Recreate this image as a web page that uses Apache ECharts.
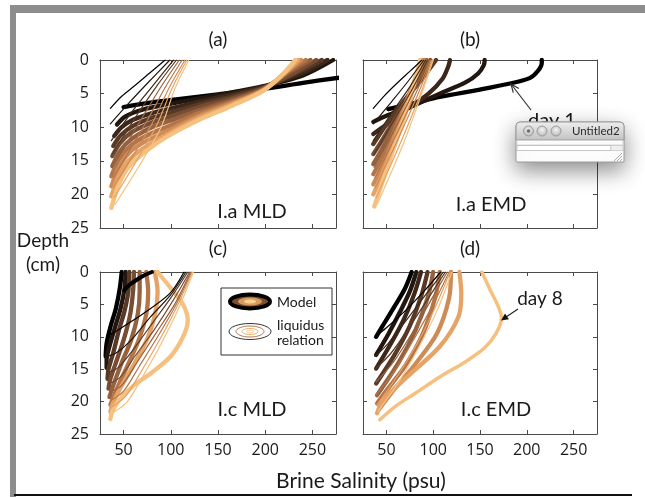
<!DOCTYPE html>
<html><head><meta charset="utf-8">
<script src="https://cdn.jsdelivr.net/npm/echarts@6/dist/echarts.min.js"></script>
<style>html,body{margin:0;padding:0;background:#fff}#c{width:645px;height:497px}</style>
</head><body><div id="c"></div>
<script>
// ---------- data (salinity psu, depth cm) ----------
const xTicks=[50,100,150,200,250];
const yTicks=[0,5,10,15,20,25];
const panelTitles=['(a)','(b)','(c)','(d)'];
const panelNames=['I.a MLD','I.a EMD','I.c MLD','I.c EMD'];
const legendNames=['Model','liquidus','relation'];
const notes=['day 1','day 8'];

const aModel=[
 [[50,7.0],[80,6.3],[110,5.8],[150,5.1],[198,4.3],[240,3.4],[280,2.6]],
 [[43,9.6],[52,8.4],[70,7.4],[100,6.5],[130,5.7],[165,4.8],[198,3.9],[240,2.3],[272,0]],
 [[40,11.3],[48,10],[60,8.9],[80,7.9],[100,7.2],[130,6.2],[165,5.1],[198,4.0],[238,2.0],[266,0]],
 [[39,12.8],[47,11.2],[60,9.8],[80,8.6],[100,7.8],[130,6.6],[165,5.4],[198,4.1],[235,1.8],[260,0]],
 [[38,14.3],[46,12.4],[58,10.8],[80,9.3],[100,8.4],[130,7.0],[165,5.7],[198,4.2],[232,1.8],[254,0]],
 [[38,15.8],[46,13.6],[58,11.8],[80,10],[100,9.0],[130,7.5],[165,6.0],[198,4.3],[228,1.6],[248,0]],
 [[37,17.3],[45,14.8],[57,12.8],[75,11.2],[100,9.7],[130,7.9],[165,6.2],[198,4.4],[225,1.6],[243,0]],
 [[37,18.8],[45,16],[56,13.8],[72,12.2],[100,10.3],[130,8.3],[165,6.4],[198,4.5],[222,1.8],[238,0]],
 [[37,20.3],[45,17.2],[55,15],[70,13.2],[97,11],[130,8.6],[165,6.6],[198,4.5],[220,2],[235,0]],
 [[37,22],[45,18.5],[55,16],[70,14],[95,11.5],[130,8.9],[165,6.8],[198,4.6],[218,2.2],[232,0]]
];
const aLiquidus=[
 [[36,7.2],[48,5.4],[62,3.8],[78,1.9],[94,0]],
 [[36,9.5],[55,6.5],[75,3.5],[99,0]],
 [[37,12],[60,7.5],[80,4],[103,0]],
 [[38,14],[65,8],[86,3.7],[106,0]],
 [[38,16],[70,8.5],[90,3.9],[109,0]],
 [[39,17.5],[75,9],[94,4.1],[112,0]],
 [[39,19],[80,9.5],[98,4.2],[115,0]],
 [[40,20.5],[84,10],[101,4.3],[117,0]],
 [[41,21.5],[88,10.5],[104,4.4],[119,0]]
];
const bModel=[
 [[52,7.3],[80,6.4],[107,5.5],[150,4.4],[182,3.5],[203,2.7],[212,1.6],[216,0.4],[216,0]],
 [[36,9.2],[50,8.3],[72,7.2],[107,5.0],[135,3.3],[148,2.0],[154,0.8],[155,0]],
 [[36,11],[50,9.6],[72,7.3],[95,5],[110,2.8],[116,1],[118,0]],
 [[36,12.5],[50,9.6],[68,6.2],[88,2.8],[103,0]],
 [[36,14],[50,10.9],[68,6.8],[85,2.8],[97,0]],
 [[36,15.5],[50,12],[67,7.3],[82,3],[93,0]],
 [[36,17],[50,13.3],[66,8],[80,3.2],[91,0]],
 [[36,18.5],[50,14.5],[65,8.8],[79,3.5],[89,0]],
 [[36,20],[50,15.5],[65,9.5],[78,4],[87,0]],
 [[37,21.8],[50,16.4],[65,10.2],[77,5],[86,0]]
];
const bLiquidus=[
 [[36,7.2],[48,5.3],[61,3.5],[75,1.7],[88,0]],
 [[36,9.5],[55,6.3],[73,3.2],[90,0]],
 [[36,12],[55,8],[75,4],[92,0]],
 [[37,14],[58,9],[77,4.5],[94,0]],
 [[37,16],[60,10],[80,4.5],[96,0]],
 [[38,17.5],[62,10.7],[82,4.8],[97,0]],
 [[38,19],[64,11.3],[84,5],[98,0]],
 [[39,20.5],[66,12],[86,5.2],[99,0]],
 [[40,21.5],[68,12.5],[87,5.3],[100,0]]
];
const cModelDay1=[[80,0],[72,0.5],[64,1.2],[56,2.0],[51,2.8]];
const cModel=[
 [[48,0],[46,2.5],[42,5.5],[36,8.5],[32,11],[31,13]],
 [[52,0],[51,2.5],[47,5.5],[41,8.5],[35,11.5],[32,13.5],[32,14.8]],
 [[56,0],[55,3],[51,6],[45,9],[39,12.5],[34,15],[33,16.5]],
 [[61,0],[60,3],[57,6.5],[51,10],[43,13.5],[36,16.5],[34,18]],
 [[67,0],[67,3],[65,6.5],[58,10.5],[48,14],[39,17.5],[35,19.3]],
 [[74,0],[76,3],[74,6.5],[66,10.5],[54,14.5],[43,18],[36,20.5]],
 [[83,0],[86,3],[84,6],[76,10],[62,14],[47,17.8],[38,20.5],[36,21.6]],
 [[86,0],[100,2.5],[113,5],[118,7.5],[113,10],[100,13],[80,15.5],[60,17.6],[45,19.8],[38,21.5],[36,22.7]]
];
const cLiquidus=[
 [[114,0],[99,3.3],[71,6.4],[50,8.4],[36,9.7],[32,10]],
 [[116,0],[100,3.5],[78,7],[58,10.5],[42,12.5],[33,13]],
 [[118,0],[100,4],[80,8],[60,12],[44,14.8],[34,15.5]],
 [[120,0],[102,4.5],[82,9],[62,13],[46,16.3],[35,17.2]],
 [[121,0],[104,5],[84,9.5],[64,14],[48,17.5],[36,18.5]],
 [[122,0],[105,5.2],[86,10],[66,14.7],[50,18.4],[37,19.8]],
 [[123,0],[106,5.5],[88,10.5],[68,15.5],[52,19.2],[38,20.8]],
 [[124,0],[108,5.7],[90,11],[70,16.2],[54,20],[39,21.7]]
];
const dModel=[
 [[77,0],[70,2.5],[60,5],[49,7.6],[39,10]],
 [[82,0],[75,3],[64,6.3],[52,9.6],[39,12.8]],
 [[87,0],[80,3.3],[69,7.2],[55,11],[39,14.9]],
 [[94,0],[87,3.8],[75,8.3],[59,12.7],[39,17.2]],
 [[100,0],[94,4],[81,9],[63,14],[40,19]],
 [[107,0],[102,4],[89,9.5],[70,14.5],[50,18.3],[40,20.3]],
 [[119,0],[117,4],[104,9.5],[82,14],[58,18.2],[42,21.2]],
 [[128,0],[130,3.3],[127,6.9],[107,11.5],[72,16.2],[47,19.7],[40,21.8]],
 [[152,0],[160,2.5],[170,5.5],[173,7.1],[167,9.5],[155,11.7],[135,13.8],[107,16.2],[80,18.8],[60,20.7],[43,22.8]]
];
const dLiquidus=[
 [[108,0],[90,3],[70,6],[50,8.6],[38,10]],
 [[111,0],[92,3.5],[72,7.3],[52,11],[38,13]],
 [[113,0],[95,4],[75,8.4],[55,12.5],[38,15]],
 [[115,0],[97,4.5],[78,9.3],[58,13.8],[39,17]],
 [[117,0],[100,5],[80,10.2],[60,15],[39,19]],
 [[118,0],[102,5.5],[83,11],[62,16],[40,20.5]],
 [[120,0],[104,6],[85,11.5],[64,16.8],[41,21.5]]
];

// ---------- styles ----------
const FONT='Lato, "Open Sans", sans-serif';
const NUMFONT='"Open Sans", Lato, sans-serif';
const TXT='#1a1a1a';
const shade=['#000000','#22160e','#3c281a','#583926','#764c32','#95613e','#b47549','#cf8b56','#e6a366','#f6c07e'];
function col(i,n){return shade[Math.round(i*(shade.length-1)/Math.max(1,n-1))];}
const gridBoxes=[
 {left:100,top:60,width:236,height:168},
 {left:363,top:60,width:234,height:168},
 {left:100,top:272,width:236,height:162},
 {left:363,top:272,width:234,height:162}
];
const axC={color:'#4a4a4a',width:1};

const xAxis=[],yAxis=[];
for(let g=0;g<4;g++){
  xAxis.push({gridIndex:g,type:'value',min:25,max:275,position:'bottom',
    axisLine:{onZero:false,lineStyle:axC},
    axisTick:{inside:true,length:4,customValues:xTicks,lineStyle:axC},
    axisLabel:{show:g>=2,customValues:xTicks,fontFamily:NUMFONT,fontSize:16,color:TXT,margin:8},
    splitLine:{show:false}});
  yAxis.push({gridIndex:g,type:'value',min:0,max:25,inverse:true,position:'left',
    axisLine:{onZero:false,lineStyle:axC},
    axisTick:{inside:true,length:4,customValues:yTicks,lineStyle:axC},
    axisLabel:{show:g%2===0,customValues:yTicks,fontFamily:NUMFONT,fontSize:16,color:TXT,margin:11},
    splitLine:{show:false}});
}
for(let g=0;g<4;g++){
  xAxis.push({gridIndex:g,type:'value',min:25,max:275,position:'top',
    axisLine:{onZero:false,lineStyle:axC},
    axisTick:{inside:true,length:4,customValues:xTicks,lineStyle:axC},
    axisLabel:{show:false},splitLine:{show:false}});
  yAxis.push({gridIndex:g,type:'value',min:0,max:25,inverse:true,position:'right',
    axisLine:{onZero:false,lineStyle:axC},
    axisTick:{inside:true,length:4,customValues:yTicks,lineStyle:axC},
    axisLabel:{show:false},splitLine:{show:false}});
}

const series=[];
function addSet(curves,g,width,z,fixedColor){
  curves.forEach((c,i)=>series.push({type:'line',xAxisIndex:g,yAxisIndex:g,data:c,smooth:0.3,
    symbol:'none',silent:true,clip:true,z:z,
    lineStyle:{color:fixedColor||col(i,curves.length),width:width,cap:'round',join:'round'}}));
}
addSet(aModel,0,4.3,2); addSet(aLiquidus,0,1.2,3);
addSet(bModel,1,4.3,2); addSet(bLiquidus,1,1.2,3);
addSet(cModel,2,4.3,2); addSet([cModelDay1],2,4,2,'#000'); addSet(cLiquidus,2,1.2,3);
addSet(dModel,3,4.3,2); addSet(dLiquidus,3,1.2,3);
series[series.length-dLiquidus.length-1].lineStyle.width=3.5;

function t(str,x,y,size,extra){return Object.assign({type:'text',x:x,y:y,z:50,style:{text:str,fill:TXT,font:size+'px '+FONT,align:'center',verticalAlign:'middle'}},extra||{});}
function lt(str,x,y,size){return {type:'text',x:x,y:y,z:50,style:{text:str,fill:TXT,font:size+'px '+FONT,align:'left',verticalAlign:'middle'}};}
function arrowHead(x0,y0,x1,y1,len,ang){
  const a=Math.atan2(y0-y1,x0-x1);
  return [[x1+len*Math.cos(a+ang),y1+len*Math.sin(a+ang)],[x1,y1],[x1+len*Math.cos(a-ang),y1+len*Math.sin(a-ang)]];
}
const btnFill=()=>new echarts.graphic.RadialGradient(0.5,0.4,0.6,[{offset:0,color:'#f4f4f4'},{offset:1,color:'#b6b6b6'}]);
const graphic=[
 {type:'rect',z:60,shape:{x:10,y:5,width:635,height:8},style:{fill:'#8d8d8d'}},
 {type:'rect',z:60,shape:{x:10,y:5,width:6,height:492},style:{fill:'#8d8d8d'}},
 {type:'rect',z:60,shape:{x:14,y:494,width:618,height:2},style:{fill:'#111'}},
 t(panelTitles[0],218,40,19), t(panelTitles[1],470,40,19),
 t(panelTitles[2],218,249,19), t(panelTitles[3],470,249,19),
 t(panelNames[0],252,212,20), t(panelNames[1],491,205,20),
 t(panelNames[2],252,410,20), t(panelNames[3],496,410,20),
 t('Depth',43,241,19), t('(cm)',43,265,19),
 t('Brine Salinity (psu)',361,481,21),
 // legend
 {type:'rect',z:40,shape:{x:221,y:288,width:111,height:67},style:{fill:'#fff',stroke:'#333',lineWidth:1}},
 {type:'ellipse',z:41,shape:{cx:250,cy:301.5,rx:20,ry:7},style:{fill:'#7a4e30',stroke:'#000',lineWidth:4}},
 {type:'ellipse',z:42,shape:{cx:250,cy:301.5,rx:12,ry:4},style:{fill:'#d89a5e'}},
 {type:'ellipse',z:43,shape:{cx:250,cy:301.5,rx:6,ry:2},style:{fill:'#f8d38f'}},
 {type:'ellipse',z:41,shape:{cx:250,cy:331.5,rx:21,ry:8},style:{fill:'none',stroke:'#333',lineWidth:1}},
 {type:'ellipse',z:41,shape:{cx:250,cy:331.5,rx:14,ry:5.5},style:{fill:'none',stroke:'#b07a55',lineWidth:1}},
 {type:'ellipse',z:41,shape:{cx:250,cy:331.5,rx:8,ry:3},style:{fill:'none',stroke:'#e9ac6c',lineWidth:1}},
 {type:'ellipse',z:41,shape:{cx:250,cy:331.5,rx:3.5,ry:1.3},style:{fill:'none',stroke:'#f6c890',lineWidth:1}},
 lt(legendNames[0],277,302.5,14), lt(legendNames[1],277,325,14), lt(legendNames[2],277,340,14),
 // annotations
 t(notes[0],552,121,20),
 {type:'line',z:50,shape:{x1:531,y1:110,x2:511,y2:84},style:{stroke:'#333',lineWidth:1.2}},
 {type:'polyline',z:50,shape:{points:arrowHead(531,110,511,84,9,0.4)},style:{stroke:'#333',lineWidth:1.2,fill:'none'}},
 t(notes[1],540,299,19),
 {type:'line',z:50,shape:{x1:518,y1:309,x2:503,y2:319},style:{stroke:'#222',lineWidth:1.2}},
 {type:'polygon',z:50,shape:{points:arrowHead(518,309,501,320.5,8,0.45)},style:{fill:'#111'}},
 // window overlay
 {type:'group',z:70,children:[
   {type:'rect',z:70,shape:{x:516,y:122,width:108,height:40,r:[4,4,1,1]},style:{fill:'#fff',stroke:'#9a9a9a',lineWidth:1,shadowBlur:22,shadowColor:'rgba(0,0,0,0.45)',shadowOffsetY:8}},
   {type:'rect',z:71,shape:{x:516,y:122,width:108,height:18,r:[4,4,0,0]},style:{fill:new echarts.graphic.LinearGradient(0,0,0,1,[{offset:0,color:'#eeeeee'},{offset:1,color:'#c2c2c2'}]),stroke:'#9a9a9a',lineWidth:1}},
   {type:'circle',z:72,shape:{cx:528.5,cy:131,r:5},style:{fill:btnFill(),stroke:'#8f8f8f',lineWidth:0.8}},
   {type:'circle',z:73,shape:{cx:528.5,cy:131,r:1.8},style:{fill:'#6d6d6d'}},
   {type:'circle',z:72,shape:{cx:542,cy:131,r:5},style:{fill:btnFill(),stroke:'#8f8f8f',lineWidth:0.8}},
   {type:'circle',z:72,shape:{cx:556,cy:131,r:5},style:{fill:btnFill(),stroke:'#8f8f8f',lineWidth:0.8}},
   {type:'text',z:72,x:572,y:131,style:{text:'Untitled2',fill:'#2a2a2a',font:'11.5px '+FONT,align:'left',verticalAlign:'middle'}},
   {type:'rect',z:71,shape:{x:517,y:140.5,width:106,height:4.5},style:{fill:'#fbfbfb',stroke:'#cfcfcf',lineWidth:0.8}},
   {type:'rect',z:71,shape:{x:517,y:145.5,width:94,height:5},style:{fill:'#fff',stroke:'#b8b8b8',lineWidth:0.8}},
   {type:'rect',z:71,shape:{x:611,y:145.5,width:12,height:5},style:{fill:'#efefef',stroke:'#c8c8c8',lineWidth:0.8}},
   {type:'line',z:72,shape:{x1:614,y1:161,x2:622,y2:153},style:{stroke:'#9a9a9a',lineWidth:0.8}},
   {type:'line',z:72,shape:{x1:617,y1:161,x2:622,y2:156},style:{stroke:'#9a9a9a',lineWidth:0.8}},
   {type:'line',z:72,shape:{x1:620,y1:161,x2:622,y2:159},style:{stroke:'#9a9a9a',lineWidth:0.8}}
 ]}
];

const chart=echarts.init(document.getElementById('c'),null,{renderer:'canvas'});
chart.setOption({
  animation:false,
  backgroundColor:'#fff',
  grid:gridBoxes,
  xAxis:xAxis,
  yAxis:yAxis,
  series:series,
  graphic:graphic
});
</script></body></html>
